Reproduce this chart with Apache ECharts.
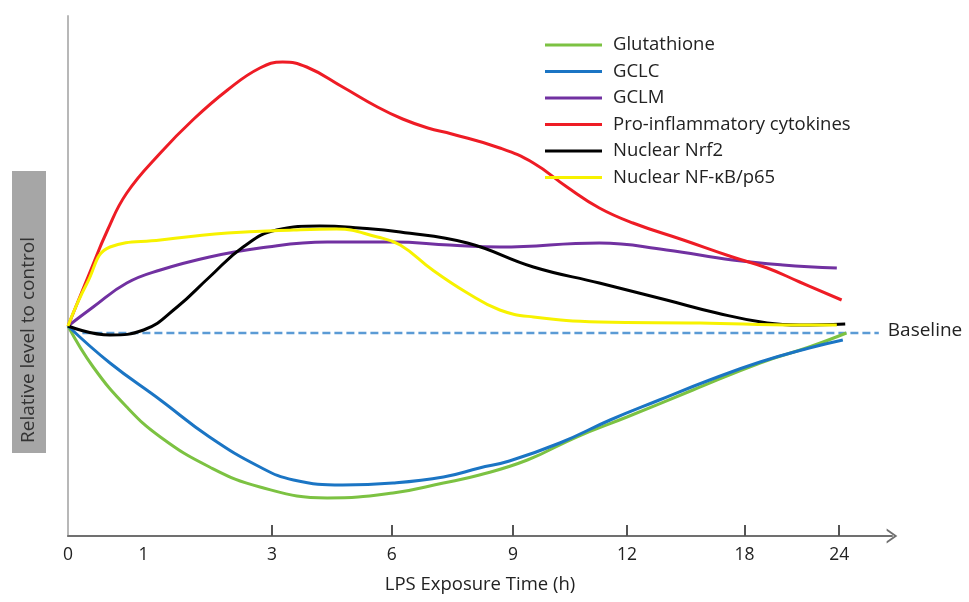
<!DOCTYPE html>
<html>
<head>
<meta charset="utf-8">
<script src="https://cdn.jsdelivr.net/npm/echarts@6/dist/echarts.min.js"></script>
<style>
  html, body { margin: 0; padding: 0; background: #fff; }
  #container { width: 969px; height: 602px; }
</style>
</head>
<body>
<div id="container"></div>
<script>
// x is in "axis position" units (the original axis is schematic, not linear in hours)
const tickLabels = ['0', '1', '3', '6', '9', '12', '18', '24'];
const tickPos = [0, 0.63, 1.70, 2.70, 3.71, 4.66, 5.64, 6.43];
const tickMarkPos = [1.70, 2.70, 3.71, 4.66, 5.64, 6.43];

const glutathione = [[0, 0], [0.21, -4.1], [0.49, -8.1], [0.77, -11.1], [1.18, -14.1], [1.6, -16.1], [2.16, -17.2], [2.71, -16.7], [3.13, -15.7], [3.43, -14.9], [3.83, -13.4], [4.24, -11.1], [4.66, -9.1], [5.21, -6.4], [5.77, -3.7], [6.18, -2.1], [6.49, -0.7]];
const gclc = [[0, 0], [0.35, -3.7], [0.77, -7.4], [1.18, -11.1], [1.6, -14.1], [1.88, -15.4], [2.29, -15.9], [2.71, -15.7], [3.13, -15.1], [3.43, -14.2], [3.68, -13.5], [4.1, -11.7], [4.52, -9.4], [4.93, -7.4], [5.35, -5.4], [5.77, -3.6], [6.18, -2.2], [6.46, -1.4]];
const gclm = [[0, 0], [0.21, 1.9], [0.49, 4.3], [0.77, 5.6], [1.18, 6.9], [1.6, 7.8], [2.16, 8.4], [2.71, 8.4], [3.18, 8.1], [3.6, 7.9], [4.43, 8.3], [4.99, 7.6], [5.54, 6.6], [5.96, 6.1], [6.41, 5.8]];
const cytokines = [[0, 0], [0.18, 5.3], [0.33, 9.6], [0.49, 13.3], [0.77, 17.3], [1.04, 20.6], [1.33, 23.6], [1.6, 25.8], [1.79, 26.4], [1.99, 25.9], [2.29, 23.9], [2.58, 21.9], [2.79, 20.7], [3.0, 19.8], [3.2, 19.2], [3.6, 17.8], [3.88, 16.3], [4.16, 13.9], [4.43, 11.8], [4.71, 10.3], [5.13, 8.6], [5.54, 6.9], [5.83, 5.8], [6.1, 4.4], [6.45, 2.6]];
const nrf2 = [[0, 0], [0.35, -0.9], [0.63, -0.4], [0.91, 1.9], [1.18, 4.9], [1.46, 7.9], [1.74, 9.6], [2.1, 10.0], [2.43, 9.8], [2.77, 9.4], [3.33, 8.3], [3.88, 5.9], [4.43, 4.3], [4.99, 2.6], [5.41, 1.3], [5.83, 0.3], [6.1, 0.1], [6.48, 0.2]];
const nfkb = [[0, 0], [0.16, 4.3], [0.35, 7.9], [0.77, 8.6], [1.33, 9.3], [1.88, 9.6], [2.24, 9.7], [2.58, 8.9], [2.77, 8.1], [3.04, 5.6], [3.33, 3.3], [3.6, 1.6], [3.88, 0.9], [4.43, 0.4], [5.27, 0.3], [6.1, 0.1], [6.41, 0.1]];
const baseline = [[0.12, -0.7], [6.76, -0.7]];

const names = ['Glutathione', 'GCLC', 'GCLM', 'Pro-inflammatory cytokines', 'Nuclear Nrf2', 'Nuclear NF-\u03baB/p65'];
const colors = ['#7cc242', '#1b75c4', '#7131a1', '#ee1c25', '#000000', '#f7f200'];
const values = [glutathione, gclc, gclm, cytokines, nrf2, nfkb];

var dom = document.getElementById('container');
var myChart = echarts.init(dom, null, { renderer: 'canvas' });

var series = names.map(function (n, i) {
    return {
        name: n,
        type: 'line',
        data: values[i],
        smooth: 0.45,
        showSymbol: false,
        itemStyle: { color: colors[i] },
        lineStyle: { color: colors[i], width: 3 }
    };
});
series.unshift({
    name: 'Baseline',
    type: 'line',
    data: baseline,
    showSymbol: false,
    lineStyle: { color: '#5b9bd5', width: 2.5, type: [8, 4] },
    endLabel: {
        show: true,
        formatter: 'Baseline',
        color: '#222',
        fontSize: 19,
        fontFamily: 'Open Sans',
        distance: 9,
        offset: [0, -2]
    }
});

var option = {
    animation: false,
    textStyle: { fontFamily: 'Open Sans' },
    grid: { left: 68, right: 77, top: 16, bottom: 66 },
    legend: {
        data: names,
        orient: 'vertical',
        left: 540,
        top: 30,
        icon: 'rect',
        itemWidth: 57,
        itemHeight: 3,
        itemGap: 6.5,
        textStyle: { fontSize: 18.5, color: '#222', lineHeight: 20, padding: [0, 0, 0, 6] }
    },
    xAxis: {
        type: 'value',
        min: 0,
        max: 6.87,
        name: 'LPS Exposure Time (h)',
        nameLocation: 'middle',
        nameGap: 39,
        nameTextStyle: { fontSize: 18.5, color: '#222' },
        axisLine: {
            onZero: false,
            lineStyle: { color: '#707070', width: 2 },
            symbol: ['none', 'path://M0,10 L7,0 L14,10 L12,10 L7,3 L2,10 Z'],
            symbolSize: [15, 11],
            symbolOffset: [0, 0]
        },
        axisTick: { show: true, inside: true, length: 11, customValues: tickMarkPos, lineStyle: { color: '#555', width: 2 } },
        axisLabel: {
            customValues: tickPos,
            formatter: function (v) {
                var i = tickPos.indexOf(v);
                return i >= 0 ? tickLabels[i] : '';
            },
            fontSize: 17.5,
            color: '#222',
            margin: 10
        },
        splitLine: { show: false }
    },
    yAxis: {
        type: 'value',
        min: -21,
        max: 31,
        axisLine: { show: true, onZero: false, lineStyle: { color: '#b8b8b8', width: 2 } },
        axisTick: { show: false },
        axisLabel: { show: false },
        splitLine: { show: false }
    },
    graphic: [
        {
            type: 'rect',
            left: 12,
            top: 171,
            shape: { width: 34, height: 282 },
            style: { fill: '#a6a6a6' }
        },
        {
            type: 'text',
            x: 29,
            y: 340,
            rotation: Math.PI / 2,
            style: {
                text: 'Relative level to control',
                fill: '#333',
                fontSize: 19,
                fontFamily: 'Open Sans',
                align: 'center',
                verticalAlign: 'middle'
            }
        }
    ],
    series: series
};

myChart.setOption(option);
window.addEventListener('resize', myChart.resize);
</script>
</body>
</html>
